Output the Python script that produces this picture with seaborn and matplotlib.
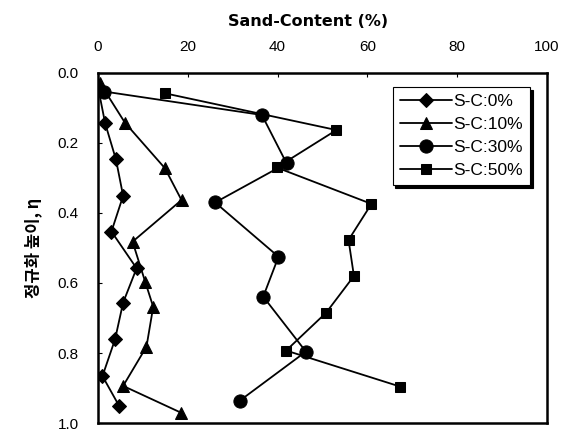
import matplotlib
matplotlib.use("Agg")
import matplotlib.pyplot as plt
import seaborn as sns
import pandas as pd

# Sand content (%) against normalized height for each sand-clay mix
height_0 = [0.04, 0.144, 0.247, 0.351, 0.453, 0.558, 0.656, 0.761, 0.866, 0.951]
sand_0 = [0.0, 1.6, 4.0, 5.6, 3.0, 8.6, 5.6, 3.8, 1.0, 4.7]

height_10 = [0.03, 0.142, 0.272, 0.363, 0.482, 0.596, 0.668, 0.782, 0.894, 0.970]
sand_10 = [0.5, 6.0, 14.9, 18.6, 7.7, 10.5, 12.3, 10.8, 5.6, 18.4]

height_30 = [0.053, 0.12, 0.258, 0.37, 0.525, 0.639, 0.796, 0.936]
sand_30 = [1.4, 36.5, 42.0, 26.1, 40.2, 36.8, 46.3, 31.6]

height_50 = [0.058, 0.163, 0.27, 0.374, 0.477, 0.58, 0.685, 0.793, 0.896]
sand_50 = [14.9, 53.1, 39.8, 60.9, 55.8, 57.0, 50.8, 41.9, 67.3]

labels = ["S-C:0%", "S-C:10%", "S-C:30%", "S-C:50%"]
x_ticks = [0, 20, 40, 60, 80, 100]
y_ticks = [0.0, 0.2, 0.4, 0.6, 0.8, 1.0]

series = [
    (sand_0, height_0, "D", 7.5),
    (sand_10, height_10, "^", 9),
    (sand_30, height_30, "o", 9.5),
    (sand_50, height_50, "s", 6.5),
]

sns.set_theme(style="white")
plt.rcParams["font.family"] = ["Liberation Sans", "DejaVu Sans"]

fig = plt.figure(figsize=(5.71, 4.36), dpi=100)
ax = fig.add_axes([0.1716, 0.0298, 0.7864, 0.8028])

for (xs, ys, mk, ms), lab in zip(series, labels):
    df = pd.DataFrame({"sand": xs, "eta": ys})
    sns.lineplot(data=df, x="sand", y="eta", sort=False, estimator=None,
                 color="black", linewidth=1.3, marker=mk, markersize=ms,
                 markeredgecolor="black", markerfacecolor="black",
                 label=lab, ax=ax)

ax.set_xlim(0, 100)
ax.set_ylim(1.0, 0.0)
ax.set_xticks(x_ticks)
ax.set_yticks(y_ticks)
ax.set_yticklabels([f"{v:.1f}" for v in y_ticks])
ax.xaxis.tick_top()
ax.xaxis.set_label_position("top")
ax.tick_params(axis="both", direction="in", length=3, width=0.8,
               color="black", labelsize=11, labelcolor="black")
ax.tick_params(axis="x", top=True, bottom=False, pad=14)
ax.tick_params(axis="y", left=True, pad=14)

for sp in ax.spines.values():
    sp.set_color("black")
    sp.set_linewidth(1.8)

ax.set_xlabel("Sand-Content (%)", fontsize=11.5, fontweight="bold",
              family=["DejaVu Sans"], color="black")
ax.xaxis.set_label_coords(0.467, 1.135)
ax.set_ylabel("정규화 높이, η", fontsize=12, fontweight="bold",
              family=["Noto Sans CJK KR", "DejaVu Sans"], color="black")
ax.yaxis.set_label_coords(-0.125, 0.5)

leg = ax.legend(loc="upper right", bbox_to_anchor=(0.962, 0.96),
                borderaxespad=0, frameon=True, fancybox=False,
                shadow={"color": "black", "alpha": 1.0},
                fontsize=12.5, handlelength=3.0, handletextpad=0.1,
                labelspacing=0.45, borderpad=0.4)
leg.get_frame().set_edgecolor("black")
leg.get_frame().set_linewidth(0.8)
for t in leg.get_texts():
    t.set_color("black")

fig.savefig("out.png", dpi=100)
